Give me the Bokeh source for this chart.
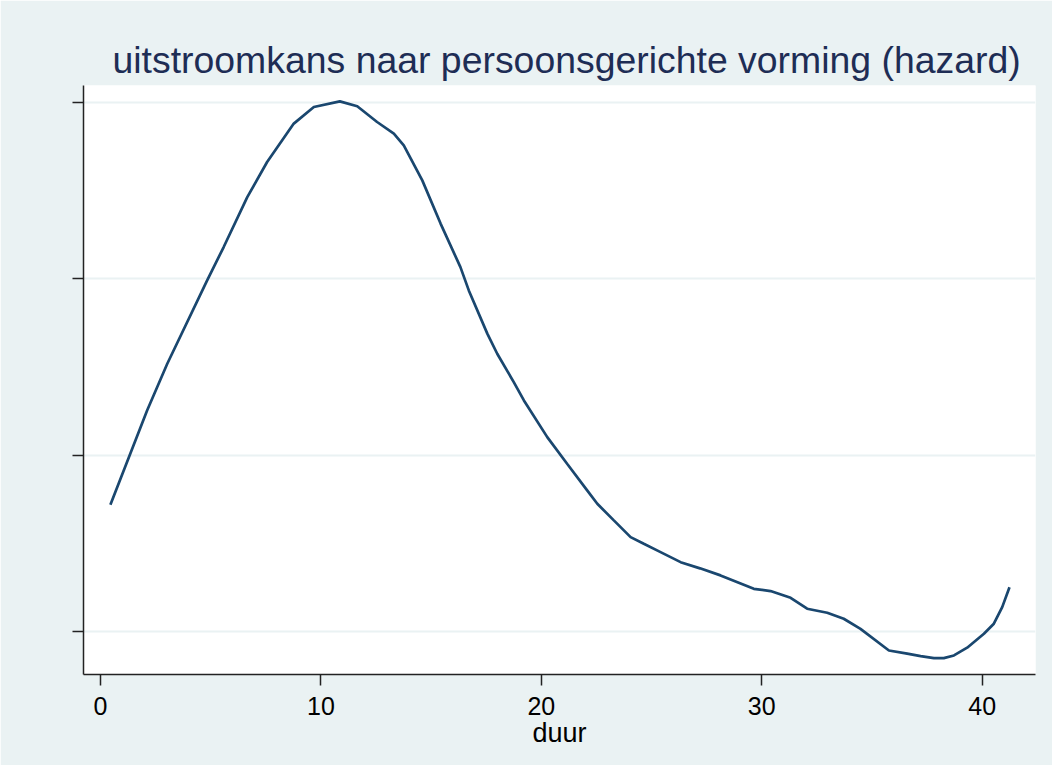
from bokeh.plotting import figure
from bokeh.models import Range1d, FixedTicker
from bokeh.embed import file_html
from bokeh.resources import INLINE

# data (duur vs hazard)
duur = [0.45, 2.12, 3.03, 4.84, 5.59, 6.66, 7.56, 8.77, 9.68, 10.86, 11.65, 12.55,
        13.31, 13.76, 14.60, 15.43, 16.33, 16.71, 17.55, 18.00, 18.75, 19.21, 20.27,
        21.17, 22.08, 22.54, 23.29, 24.05, 24.65, 25.41, 26.32, 27.20, 28.13, 29.64,
        30.40, 31.31, 32.06, 32.97, 33.72, 34.48, 35.77, 36.60, 37.21, 37.81, 38.26,
        38.72, 39.32, 40.08, 40.53, 40.91, 41.24]
hazard = [0.01719, 0.02254, 0.02518, 0.02991, 0.03180, 0.03463, 0.03662, 0.03880,
          0.03974, 0.04006, 0.03978, 0.03889, 0.03823, 0.03757, 0.03558, 0.03313,
          0.03066, 0.02934, 0.02689, 0.02575, 0.02414, 0.02310, 0.02102, 0.01951,
          0.01800, 0.01724, 0.01630, 0.01535, 0.01497, 0.01450, 0.01393, 0.01358,
          0.01318, 0.01242, 0.01229, 0.01191, 0.01129, 0.01106, 0.01072, 0.01015,
          0.00892, 0.00874, 0.00860, 0.00849, 0.00849, 0.00864, 0.00908, 0.00987,
          0.01044, 0.01138, 0.01251]
x_ticks = [0, 10, 20, 30, 40]
y_ticks = [0.01, 0.02, 0.03, 0.04]

BG = "#EAF2F3"
FONT = "Liberation Sans"

p = figure(width=1052, height=765, output_backend="svg", toolbar_location=None,
           x_range=Range1d(-0.77, 42.42), y_range=Range1d(0.00756, 0.04096),
           title="uitstroomkans naar persoonsgerichte vorming (hazard)",
           min_border_left=83, min_border_right=17, min_border_top=85, min_border_bottom=91)

p.border_fill_color = BG
p.background_fill_color = "white"
p.outline_line_color = None

p.title.align = "left"
p.title.offset = 29
p.title.text_font = FONT
p.title.text_font_size = "37.4px"
p.title.text_font_style = "normal"
p.title.text_color = "#1e2d55"

p.line(duur, hazard, line_color="#1a476f", line_width=2.7)

p.xgrid.visible = False
p.ygrid.grid_line_color = BG
p.ygrid.grid_line_width = 2

p.xaxis.ticker = FixedTicker(ticks=x_ticks)
p.yaxis.ticker = FixedTicker(ticks=y_ticks)
p.xaxis.minor_tick_line_color = None
p.yaxis.minor_tick_line_color = None
for ax in (p.xaxis, p.yaxis):
    ax.axis_line_color = "#222222"
    ax.axis_line_width = 1.5
    ax.major_tick_line_color = "#222222"
    ax.major_tick_line_width = 1.5
    ax.major_tick_out = 11
    ax.major_tick_in = 0

p.xaxis.axis_label = "duur"
p.xaxis.axis_label_text_font = FONT
p.xaxis.axis_label_text_font_size = "27px"
p.xaxis.axis_label_text_font_style = "normal"
p.xaxis.axis_label_text_color = "black"
p.xaxis.axis_label_standoff = 0
p.xaxis.major_label_text_font = FONT
p.xaxis.major_label_text_font_size = "25px"
p.xaxis.major_label_text_color = "black"
p.xaxis.major_label_standoff = 11

p.yaxis.major_label_overrides = {t: "" for t in y_ticks}
p.yaxis.major_label_text_font_size = "1px"
p.yaxis.major_label_standoff = 0

open("out.html", "w").write(file_html(p, INLINE))
